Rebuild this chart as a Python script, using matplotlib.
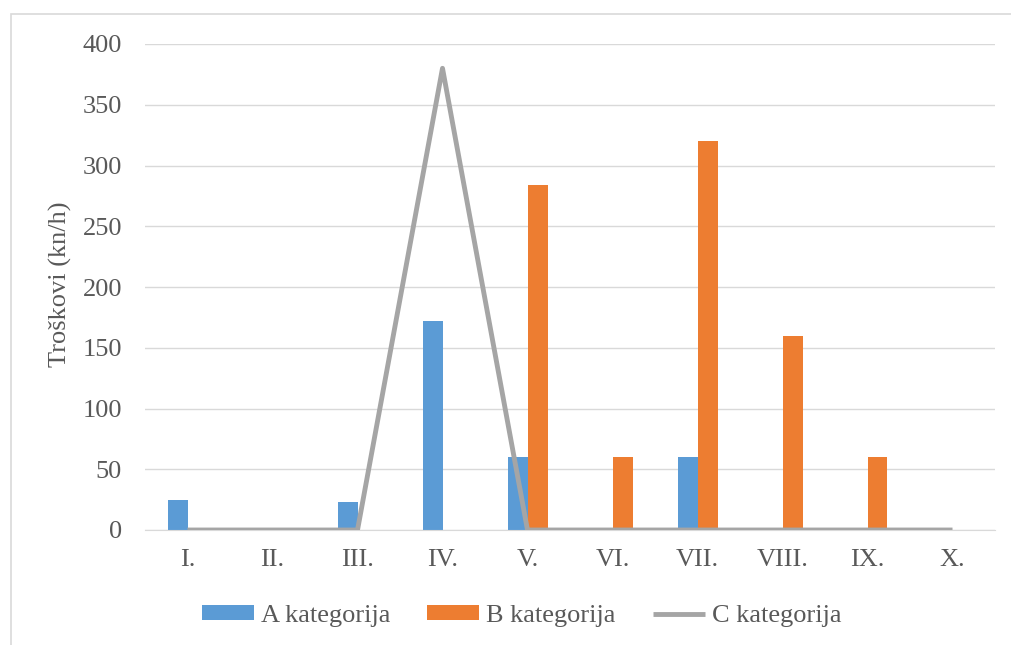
import matplotlib
matplotlib.use("Agg")
import matplotlib.pyplot as plt
from matplotlib.patches import Rectangle
import numpy as np

categories = ["I.", "II.", "III.", "IV.", "V.", "VI.", "VII.", "VIII.", "IX.", "X."]
a_values = [25, 0, 23, 172, 60, 0, 60, 0, 0, 0]
b_values = [0, 0, 0, 0, 284, 60, 320, 160, 60, 0]
c_values = [0, 0, 0, 380, 0, 0, 0, 0, 0, 0]

plt.rcParams['font.family'] = ['Liberation Serif', 'DejaVu Serif']
txt = '#595959'
W, H = 1011, 645
fig = plt.figure(figsize=(W/100, H/100), dpi=100)
ax = fig.add_axes([145/W, 1-530/H, 850/W, 486/H])

x = np.arange(len(categories))
bw = 20/85
ha = ax.bar(x - bw/2, a_values, bw, color='#5B9BD5', label='A kategorija', zorder=2)
hb = ax.bar(x + bw/2, b_values, bw, color='#ED7D31', label='B kategorija', zorder=2)
hc, = ax.plot(x, c_values, color='#A5A5A5', lw=3.5, label='C kategorija', zorder=3,
              solid_capstyle='butt')

ax.set_xlim(-0.5, len(categories)-0.5)
ax.set_ylim(0, 400)
ax.set_yticks(range(0, 401, 50))
ax.set_xticks(x)
ax.set_xticklabels(categories)
ax.tick_params(axis='both', length=0, labelsize=19, colors=txt)
ax.tick_params(axis='y', pad=16.5)
ax.tick_params(axis='x', pad=14)
ax.grid(axis='y', color='#D9D9D9', lw=1, zorder=0)
ax.set_axisbelow(True)
for s in ['top', 'right', 'left']:
    ax.spines[s].set_visible(False)
ax.spines['bottom'].set_color('#D9D9D9')
ax.set_ylabel('Troškovi (kn/h)', fontsize=19, color=txt)
ax.yaxis.set_label_coords((60-145)/850, (530-284.5)/486)
ax.yaxis.label.set_verticalalignment('center')

leg = fig.legend([ha, hb, hc], ['A kategorija', 'B kategorija', 'C kategorija'],
                 loc='center', bbox_to_anchor=(521.5/W, 1-616/H), ncol=3, frameon=False,
                 fontsize=19, labelcolor=txt, handlelength=1.97, handleheight=0.53,
                 columnspacing=1.4, handletextpad=0.27)

fig.patches.append(Rectangle((11/W, -0.1), 1.2, 1-14/H+0.1, transform=fig.transFigure,
                             fill=False, edgecolor='#D9D9D9', lw=1.2))
fig.savefig('out.png', dpi=100)
